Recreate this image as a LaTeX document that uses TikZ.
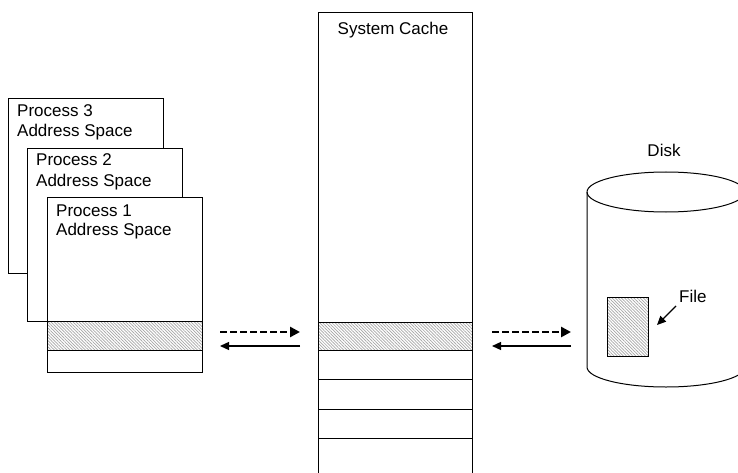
\documentclass[tikz,border=0pt]{standalone}
\usepackage{fontspec}
\setmainfont{Liberation Sans}
\usetikzlibrary{arrows.meta,patterns.meta}
\begin{document}
\begin{tikzpicture}[x=1pt,y=-1pt,
  box/.style={draw,line width=1pt,fill=white,anchor=north west,inner sep=0pt},
  hatch/.style={pattern={Lines[angle=-45,distance=2.2pt,line width=0.7pt]},pattern color=gray!70},
  lbl/.style={inner sep=0pt,font=\fontsize{17}{20}\selectfont},
  dasharrow/.style={line width=2.8pt,dash pattern=on 6.5pt off 3.5pt,-{Triangle[length=10pt,width=10pt]}},
  solidarrow/.style={line width=1.3pt,-{Triangle[length=9pt,width=8pt]}}]
\useasboundingbox (0,0) rectangle (738,473);
\clip (0,0) rectangle (738,473);
% process boxes
\node[box,minimum width=155pt,minimum height=175pt] (p3) at (8,98) {};
\node[lbl,anchor=base west] (p3a) at (17,117) {Process 3};
\node[lbl,anchor=base west] (p3b) at (17,137) {Address Space};
\node[box,minimum width=155pt,minimum height=173pt] (p2) at (27,148) {};
\node[lbl,anchor=base west] (p2a) at (36,166) {Process 2};
\node[lbl,anchor=base west] (p2b) at (36,186) {Address Space};
\node[box,minimum width=155pt,minimum height=175pt] (p1) at (47,197) {};
\node[lbl,anchor=base west] (p1a) at (56,216) {Process 1};
\node[lbl,anchor=base west] (p1b) at (56,235) {Address Space};
\filldraw[hatch,draw=black,line width=1pt] (47,321) rectangle (202,350);
% system cache
\node[box,minimum width=154pt,minimum height=490pt] (cache) at (318,12) {};
\node[lbl,anchor=base] (cachelbl) at (393,35) {System Cache};
\filldraw[hatch,draw=black,line width=1pt] (318,322) rectangle (472,350);
\draw[line width=1pt] (318,379) -- (472,379) (318,409) -- (472,409) (318,438) -- (472,438);
% disk
\draw[line width=1pt] (587,192) -- (587,367) arc[start angle=180,end angle=360,x radius=79pt,y radius=20pt] -- (745,192);
\draw[line width=1pt] (666,192) ellipse[x radius=79pt,y radius=20pt];
\node[lbl,anchor=base] (disklbl) at (664,157) {Disk};
\node[box,hatch,minimum width=41pt,minimum height=59pt] (file) at (607,297) {};
\node[lbl,anchor=base west] (filelbl) at (679,302) {File};
\coordinate (fa) at (676,306);
\coordinate (fb) at (657,325);
\draw[solidarrow] (fa) -- (fb);
% arrows
\coordinate (l1) at (220,332); \coordinate (r1) at (300,332);
\coordinate (l2) at (220,346); \coordinate (r2) at (300,346);
\coordinate (l3) at (492,332); \coordinate (r3) at (571,332);
\coordinate (l4) at (492,346); \coordinate (r4) at (571,346);
\draw[dasharrow] (l1) -- (r1);
\draw[solidarrow] (r2) -- (l2);
\draw[dasharrow] (l3) -- (r3);
\draw[solidarrow] (r4) -- (l4);
\end{tikzpicture}
\end{document}
